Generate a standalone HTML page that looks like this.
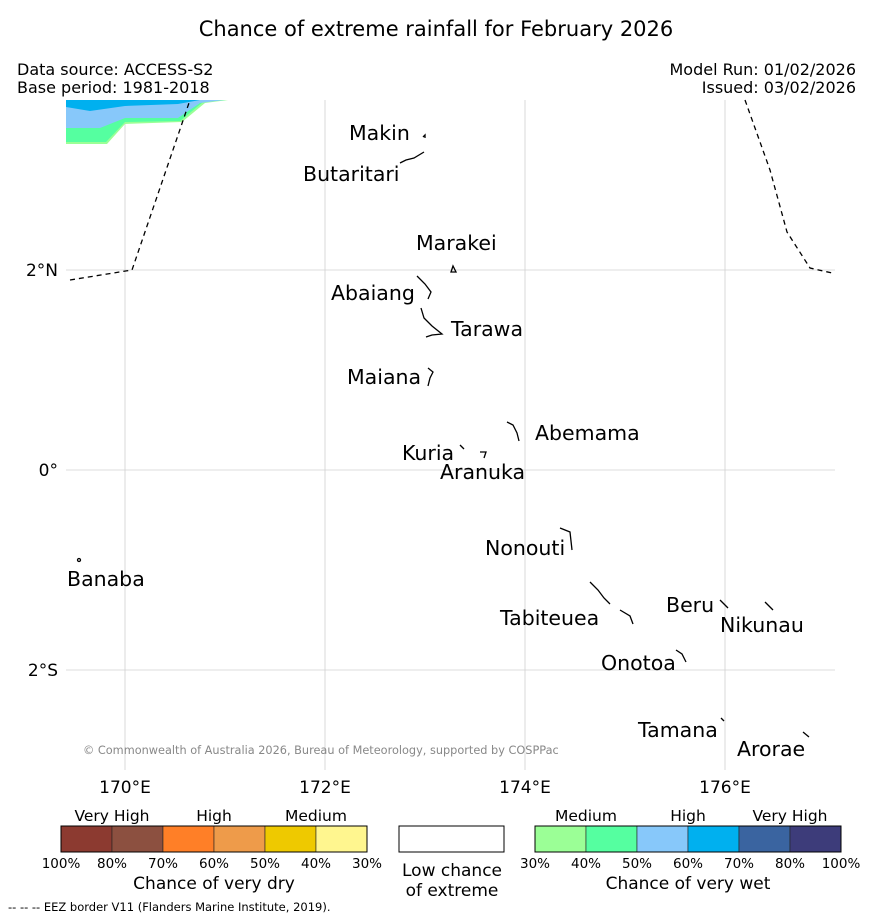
<!DOCTYPE html>
<html><head><meta charset="utf-8"><style>
html,body{margin:0;padding:0;background:#fff;}
svg text{font-family:"DejaVu Sans","Liberation Sans",sans-serif;fill:#000;}
</style></head><body>
<svg width="873" height="919" viewBox="0 0 873 919" xmlns="http://www.w3.org/2000/svg">
<text x="436" y="36" font-size="21" text-anchor="middle">Chance of extreme rainfall for February 2026</text>
<text x="17" y="75" font-size="16">Data source: ACCESS-S2</text>
<text x="17" y="93" font-size="16">Base period: 1981-2018</text>
<text x="856" y="75" font-size="16" text-anchor="end">Model Run: 01/02/2026</text>
<text x="856" y="93" font-size="16" text-anchor="end">Issued: 03/02/2026</text>
<g id="grid"></g>
<g>
<polygon points="66,100 228,100 205,103 182,122 125,124 107,144 66,144" fill="#9bff96"/>
<polygon points="66,100 226,100 203,102 180,121 125,122 106,142 66,142" fill="#55ffa0"/>
<polygon points="66,100 224,100 200,103 178,118 125,118 100,128 66,128" fill="#87c8fa"/>
<polygon points="66,100 200,100 178,104 125,106 90,111 66,107" fill="#00b0ef"/>
</g>
<g fill="none" stroke="#000" stroke-width="1.3" stroke-dasharray="5,4">
<polyline points="70,280 132,270 190,100"/>
<polyline points="745,100 770,170 787,232 810,268 832,273"/>
</g>
<g fill="none" stroke="#000" stroke-width="1.3">
<path d="M423,137 l2,-2 l0,3"/><path d="M400,163 l6,-3 l8,-2 l10,-6"/>
<path d="M451,272 l2,-6 l3,6 z"/>
<path d="M417,276 l8,8 l6,8 l-3,7"/>
<path d="M421,308 l3,10 l8,8 l10,8 l-10,1 l-6,2"/>
<path d="M428,368 l5,4 l-3,6 l-2,8"/>
<path d="M507,422 l6,3 l4,8 l2,8"/><path d="M460,445 l4,4"/><path d="M480,452 l6,0 l-2,6"/>
<path d="M560,528 l10,4 l2,18"/>
<path d="M590,582 l8,8 l6,8 l6,6"/><path d="M620,610 l10,6 l3,8"/>
<path d="M676,650 l6,4 l4,8"/>
<path d="M720,600 l8,8"/><path d="M765,602 l8,8"/>
<path d="M721,718 l3,3"/><path d="M803,732 l6,5"/>
<circle cx="79" cy="560" r="1.5"/>
</g>
<g font-size="20.5">
<text x="349" y="140">Makin</text>
<text x="303" y="181">Butaritari</text>
<text x="416" y="250">Marakei</text>
<text x="331" y="300">Abaiang</text>
<text x="451" y="336">Tarawa</text>
<text x="347" y="384">Maiana</text>
<text x="535" y="440">Abemama</text>
<text x="402" y="460">Kuria</text>
<text x="440" y="479">Aranuka</text>
<text x="485" y="555">Nonouti</text>
<text x="67" y="586">Banaba</text>
<text x="666" y="612">Beru</text>
<text x="500" y="625">Tabiteuea</text>
<text x="720" y="632">Nikunau</text>
<text x="601" y="670">Onotoa</text>
<text x="638" y="737">Tamana</text>
<text x="737" y="756">Arorae</text>
</g>
<text x="83" y="754" font-size="11.3" style="fill:#888">© Commonwealth of Australia 2026, Bureau of Meteorology, supported by COSPPac</text>
<g id="ticks" font-size="17"></g>
<g id="legend"></g>
<text x="8" y="911" font-size="11.5">--  --  -- EEZ border V11 (Flanders Marine Institute, 2019).</text>
</svg>
<script>
const lonTicks=[170,172,174,176];
const lonLabels=["170°E","172°E","174°E","176°E"];
const latTicks=[2,0,-2];
const latLabels=["2°N","0°","2°S"];
const dryColors=["#8c3a30","#8c5040","#ff7f27","#ee9b4a","#eec900","#fff68f"];
const dryTicks=["100%","80%","70%","60%","50%","40%","30%"];
const wetColors=["#9bff96","#55ffa0","#87c8fa","#00b0ef","#3a64a0","#3d3c7a"];
const wetTicks=["30%","40%","50%","60%","70%","80%","100%"];
const xs=lon=>125+(lon-170)*100;
const ys=lat=>470-lat*100;
const NS="http://www.w3.org/2000/svg";
function mk(tag,attrs,parent){const e=document.createElementNS(NS,tag);for(const k in attrs)e.setAttribute(k,attrs[k]);parent.appendChild(e);return e;}
const grid=document.getElementById('grid'),ticks=document.getElementById('ticks'),leg=document.getElementById('legend');
lonTicks.forEach((v,i)=>{
 const l=mk('line',{x1:xs(v),x2:xs(v),y1:100,y2:770,stroke:'#d0d0d0','stroke-width':0.8},grid);
 
 
 const t=mk('text',{x:xs(v),y:793,'text-anchor':'middle'},ticks);t.textContent=lonLabels[i];
 
 
});
latTicks.forEach((v,i)=>{
 const l=mk('line',{x1:66,x2:835,y1:ys(v),y2:ys(v),stroke:'#d0d0d0','stroke-width':0.8},grid);
 
 
 const t=mk('text',{x:58,y:ys(v)+6,'text-anchor':'end'},ticks);t.textContent=latLabels[i];
 
 
});
function bar(x0,colors,labels,cats,title,nm){
 const w=51;
 colors.forEach((c,i)=>{const r=mk('rect',{x:x0+i*w,y:826,width:w,height:26,fill:c,stroke:'#222','stroke-width':0.6},leg);
  
  });
 mk('rect',{x:x0,y:826,width:w*6,height:26,fill:'none',stroke:'#000','stroke-width':1},leg);
 labels.forEach((s,i)=>{const t=mk('text',{x:x0+i*w,y:868,'font-size':13.5,'text-anchor':'middle'},leg);t.textContent=s;
  
  });
 cats.forEach((s,i)=>{const t=mk('text',{x:x0+w+i*2*w,y:821,'font-size':15.5,'text-anchor':'middle'},leg);t.textContent=s;
  
  });
 const t=mk('text',{x:x0+3*w,y:889,'font-size':17,'text-anchor':'middle'},leg);t.textContent=title;
 
 
}
bar(61,dryColors,dryTicks,["Very High","High","Medium"],"Chance of very dry","dry-legend");
bar(535,wetColors,wetTicks,["Medium","High","Very High"],"Chance of very wet","wet-legend");
const b=mk('rect',{x:399,y:826,width:105,height:26,fill:'#fff',stroke:'#000','stroke-width':1},leg);


[["Low chance",876],["of extreme",896]].forEach(([s,y])=>{const t=mk('text',{x:452,y:y,'font-size':17,'text-anchor':'middle'},leg);t.textContent=s;
 
 });
</script>
</body></html>
